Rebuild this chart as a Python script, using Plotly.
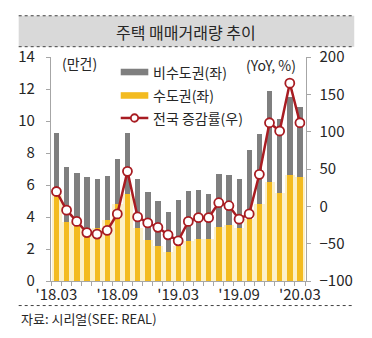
import plotly.graph_objects as go

months = ["'18.03", "'18.04", "'18.05", "'18.06", "'18.07", "'18.08", "'18.09",
          "'18.10", "'18.11", "'18.12", "'19.01", "'19.02", "'19.03", "'19.04",
          "'19.05", "'19.06", "'19.07", "'19.08", "'19.09", "'19.10", "'19.11",
          "'19.12", "'20.01", "'20.02", "'20.03"]
label_idx = [0, 6, 12, 18, 24]

capital = [5.4, 3.7, 3.45, 2.9, 3.3, 3.8, 4.85, 5.45, 3.3, 2.55, 2.2, 1.8, 2.2,
           2.5, 2.65, 2.65, 3.4, 3.5, 3.3, 3.9, 4.85, 6.2, 5.5, 6.6, 6.5]
noncapital = [3.85, 3.45, 3.3, 3.6, 3.05, 2.75, 2.75, 3.8, 3.1, 3.0, 2.8, 2.5, 2.9,
              3.15, 3.05, 2.8, 3.3, 3.1, 3.1, 4.3, 4.35, 5.65, 4.6, 4.9, 4.35]
yoy = [20, -5, -20, -35, -37, -32, -10, 47, -14, -22, -28, -38, -46, -20, -15,
       -15, 5, 1, -17, -10, 43, 112, 101, 165, 112]

W, H = 372, 338
L, R, T, B = 39, 316, 48, 287
FONT = "Noto Sans CJK KR, Noto Sans, sans-serif"
GRAY = "#7f7f7f"
YELLOW = "#f3bb20"
PALE = "#fcf0c8"
RED = "#a81c22"
AX = "#a6a6a6"
TXT = "#262626"


def px(xp):
    return xp / W


def py(yp):
    return 1 - yp / H


x = list(range(len(months)))

fig = go.Figure()
fig.add_bar(x=x, y=capital, marker_color=PALE, marker_line_width=0, width=1.0,
            hoverinfo="skip", showlegend=False)
fig.add_bar(x=x, y=capital, marker_color=YELLOW, marker_line_width=0, width=0.52,
            name="수도권(좌)")
fig.add_bar(x=x, y=noncapital, base=capital, marker_color=GRAY, marker_line_width=0,
            width=0.52, name="비수도권(좌)")
fig.add_scatter(x=x, y=yoy, yaxis="y2", mode="lines+markers", name="전국 증감률(우)",
                line=dict(color=RED, width=2.5),
                marker=dict(size=9, color="white", line=dict(color=RED, width=1.8)))

shapes = []
annotations = []


def note(text, xp, yp, size, anchor="left"):
    annotations.append(dict(text=text, xref="paper", yref="paper", x=px(xp), y=py(yp),
                            xanchor=anchor, yanchor="middle", showarrow=False,
                            font=dict(size=size, color=TXT, family=FONT)))


# title box
shapes.append(dict(type="rect", xref="paper", yref="paper", x0=px(4), x1=px(369),
                   y0=py(4), y1=py(37), fillcolor="#d9d9d9", line_width=0, layer="below"))
for yy in (4, 37, 313):
    shapes.append(dict(type="line", xref="paper", yref="paper", x0=px(4), x1=px(369),
                       y0=py(yy), y1=py(yy), line=dict(color="#404040", width=1, dash="dot")))
note("주택 매매거래량 추이", 186, 21, 16, "center")
note("자료: 시리얼(SEE: REAL)", 4, 327, 13)
note("(만건)", 49, 54, 14)
note("(YoY, %)", 308, 57, 14, "right")

# manual legend
legend_rows = [("비수도권(좌)", GRAY, 64), ("수도권(좌)", YELLOW, 89)]
for name, col, yy in legend_rows:
    shapes.append(dict(type="rect", xref="paper", yref="paper", x0=px(115), x1=px(145),
                       y0=py(yy - 3.5), y1=py(yy + 3.5), fillcolor=col, line_width=0))
    note(name, 148, yy, 14)
yy = 113
shapes.append(dict(type="line", xref="paper", yref="paper", x0=px(115), x1=px(145),
                   y0=py(yy), y1=py(yy), line=dict(color=RED, width=2.5)))
shapes.append(dict(type="circle", xref="paper", yref="paper", x0=px(126), x1=px(134),
                   y0=py(yy + 4), y1=py(yy - 4), fillcolor="white",
                   line=dict(color=RED, width=1.8)))
note("전국 증감률(우)", 148, yy, 14)

fig.update_layout(
    width=W, height=H, autosize=False,
    margin=dict(l=0, r=0, t=0, b=0, pad=0),
    paper_bgcolor="white", plot_bgcolor="white",
    barmode="overlay", bargap=0, showlegend=False,
    font=dict(family=FONT, size=15, color=TXT),
    shapes=shapes, annotations=annotations,
    xaxis=dict(domain=[px(L), px(R)], range=[-0.55, 24.55], tickmode="array",
               tickvals=label_idx, ticktext=[months[i] for i in label_idx], ticks="",
               showgrid=False, zeroline=False, showline=True, linecolor=AX, linewidth=1,
               tickfont=dict(size=15, color=TXT),
               minor=dict(tickmode="linear", tick0=-0.5, dtick=1, ticks="outside",
                          ticklen=4, tickcolor=AX, showgrid=False)),
    yaxis=dict(domain=[py(B), py(T)], range=[0, 14], dtick=2, ticks="outside", ticklen=4,
               tickcolor=AX, showline=True, linecolor=AX, showgrid=False, zeroline=False,
               ticklabelstandoff=8, tickfont=dict(size=15, color=TXT)),
    yaxis2=dict(range=[-100, 200], dtick=50, overlaying="y", side="right",
                ticks="outside", ticklen=4, tickcolor=AX, showline=True, linecolor=AX,
                showgrid=False, zeroline=False, ticklabelstandoff=6,
                tickfont=dict(size=15, color=TXT)),
)

fig.write_html("out.html")
